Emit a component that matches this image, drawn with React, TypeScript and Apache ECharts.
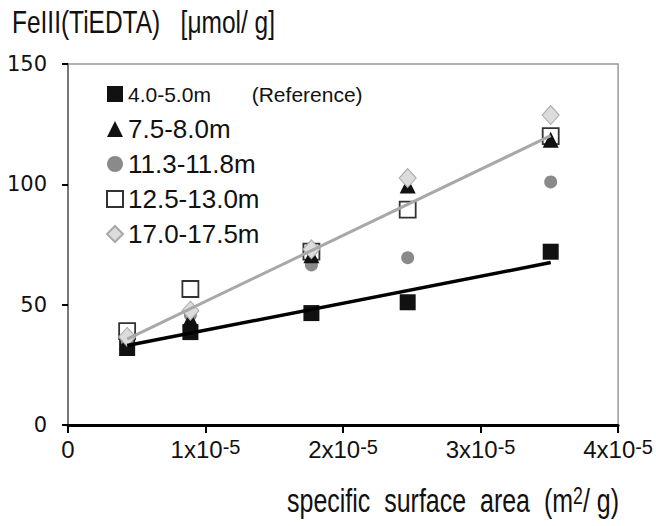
import React, { useEffect, useRef } from "react";
import * as echarts from "echarts";

// specific surface area (m2/g) of each sample column
const xValues = [4.3e-6, 8.9e-6, 1.77e-5, 2.47e-5, 3.51e-5];
// FeIII(TiEDTA) [umol/g]
const ref45 = [32, 38.6, 46.5, 51, 72];
const d75 = [34.5, 44, 70.5, 99.5, 118.5];
const d113 = [35, 45.7, 66.5, 69.5, 101];
const d125 = [39, 56.5, 72, 89.5, 120];
const d170 = [36.6, 47.5, 73, 102.6, 128.8];
// fitted trend lines (end points)
const fitX = [4.3e-6, 3.51e-5];
const fitRef = [33, 67.5];
const fitOthers = [35.7, 120.2];

const seriesNames = ["4.0-5.0m", "7.5-8.0m", "11.3-11.8m", "12.5-13.0m", "17.0-17.5m"];
const yTicks = [0, 50, 100, 150];
const xTickExp = -5;

const pair = (xs: number[], ys: number[]) => xs.map((x, i) => [x, ys[i]]);

export default function App() {
  const ref = useRef<HTMLDivElement>(null);
  useEffect(() => {
    if (!ref.current) return;
    const chart = echarts.init(ref.current, null, { renderer: "svg" });
    const font = "'Liberation Sans', Arial, sans-serif";
    chart.setOption({
      animation: false,
      backgroundColor: "#fff",
      grid: {
        left: 68,
        right: 30,
        top: 64,
        bottom: 101,
        show: true,
        borderColor: "#999",
        borderWidth: 1.5,
      },
      xAxis: {
        type: "value",
        min: 0,
        max: 4e-5,
        interval: 1e-5,
        splitLine: { show: false },
        axisLine: { lineStyle: { color: "#000", width: 3 } },
        axisTick: { length: 8, lineStyle: { color: "#000", width: 2 } },
        axisLabel: {
          margin: 12,
          color: "#111",
          formatter: (v: number) => {
            if (v === 0) return "{m|0}";
            const n = Math.round(v / Math.pow(10, xTickExp));
            return `{m|${n}x10}{s|${xTickExp}}`;
          },
          rich: {
            m: { fontSize: 24, fontFamily: font, color: "#111", lineHeight: 24, verticalAlign: "bottom" },
            s: { fontSize: 20, fontFamily: font, color: "#111", lineHeight: 20, verticalAlign: "top", padding: [0, 0, 14, 0] },
          },
        },
      },
      yAxis: {
        type: "value",
        min: yTicks[0],
        max: yTicks[yTicks.length - 1],
        interval: 50,
        splitLine: { show: false },
        axisLine: { show: true, lineStyle: { color: "#777", width: 2 } },
        axisTick: { show: true, length: 6, lineStyle: { color: "#000", width: 2 } },
        axisLabel: { margin: 21, fontSize: 21, fontFamily: "'DejaVu Sans', sans-serif", color: "#111" },
      },
      legend: {
        orient: "vertical",
        left: 106,
        top: 81,
        padding: 0,
        itemWidth: 16,
        itemHeight: 16,
        itemGap: 9,
        data: seriesNames,
        formatter: (name: string) => (name === seriesNames[0] ? `{r|${name}       (Reference)}` : name),
        textStyle: {
          fontSize: 26,
          lineHeight: 26,
          fontFamily: font,
          color: "#111",
          rich: { r: { fontSize: 21, lineHeight: 26, fontFamily: font, color: "#111" } },
        },
      },
      graphic: [
        {
          type: "text",
          x: 12,
          y: 22,
          scaleX: 0.79,
          style: {
            text: "FeIII(TiEDTA)   [\u03bcmol/ g]",
            font: `31px ${font}`,
            fill: "#111",
            align: "left",
            verticalAlign: "middle",
          },
        },
        {
          type: "text",
          x: 287,
          y: 500,
          scaleX: 0.735,
          style: {
            text: "{a|specific  surface  area  (m}{b|2}{a|/ g)}",
            fill: "#111",
            align: "left",
            verticalAlign: "middle",
            rich: {
              a: { fontSize: 34, fontFamily: font, fill: "#111", lineHeight: 34, verticalAlign: "bottom" },
              b: { fontSize: 24, fontFamily: font, fill: "#111", lineHeight: 24, verticalAlign: "top", padding: [0, 0, 14, 0] },
            },
          },
        },
      ],
      series: [
        {
          name: seriesNames[0],
          type: "scatter",
          symbol: "rect",
          symbolSize: 16,
          itemStyle: { color: "#111", opacity: 1 },
          data: pair(xValues, ref45),
          z: 2,
        },
        {
          name: seriesNames[3],
          type: "scatter",
          symbol: "rect",
          symbolSize: 16,
          itemStyle: { color: "rgba(255,255,255,0)", borderColor: "#333", borderWidth: 1.8, opacity: 1 },
          data: pair(xValues, d125),
          z: 3,
        },
        {
          name: seriesNames[2],
          type: "scatter",
          symbol: "circle",
          symbolSize: 13,
          itemStyle: { color: "#8a8a8a", opacity: 1 },
          data: pair(xValues, d113),
          z: 4,
        },
        {
          name: seriesNames[1],
          type: "scatter",
          symbol: "triangle",
          symbolSize: 16,
          itemStyle: { color: "#111", opacity: 1 },
          data: pair(xValues, d75),
          z: 5,
        },
        {
          name: seriesNames[4],
          type: "scatter",
          symbol: "diamond",
          symbolSize: [17, 19],
          itemStyle: { color: "#dcdcdc", borderColor: "#a8a8a8", borderWidth: 1, opacity: 1 },
          data: pair(xValues, d170),
          z: 6,
        },
        {
          name: "fitRef",
          type: "line",
          symbol: "none",
          lineStyle: { color: "#000", width: 3.5 },
          data: pair(fitX, fitRef),
          z: 7,
        },
        {
          name: "fitOthers",
          type: "line",
          symbol: "none",
          lineStyle: { color: "#a8a8a8", width: 3 },
          data: pair(fitX, fitOthers),
          z: 7,
        },
      ],
    });
    return () => chart.dispose();
  }, []);
  return (
    <div
      ref={ref}
      style={{ position: "fixed", left: 0, top: 0, width: 656, height: 526, background: "#fff" }}
    />
  );
}
